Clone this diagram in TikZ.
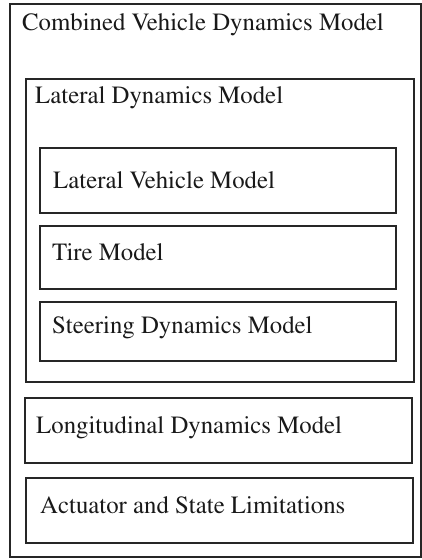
\documentclass[tikz,border=0pt]{standalone}
\usepackage[T1]{fontenc}
\usepackage{times}
\begin{document}
\begin{tikzpicture}[x=1pt, y=-1pt,
box/.style={draw=black!85, line width=1.8pt, anchor=north west, inner sep=0pt},
caption/.style={anchor=base west, inner sep=0pt, text=black!90, font=\rmfamily\fontsize{24.8}{29}\selectfont}]
\useasboundingbox (0,0) rectangle (422,560);
% frames
\node[box, minimum width=411pt, minimum height=553pt] (combined) at (9,3) {};
\node[box, minimum width=388pt, minimum height=303pt] (lateral) at (25,78) {};
\node[box, minimum width=356pt, minimum height=65pt] (vehicle) at (39,147) {};
\node[box, minimum width=356pt, minimum height=63pt] (tire) at (39,225) {};
\node[box, minimum width=356pt, minimum height=59pt] (steering) at (39,301) {};
\node[box, minimum width=387pt, minimum height=65pt] (longitudinal) at (24,397) {};
\node[box, minimum width=387pt, minimum height=65pt] (actuator) at (25,477) {};
% captions
\node[caption] (combinedT) at (22,30) {Combined Vehicle Dynamics Model};
\node[caption] (lateralT) at (35,103) {Lateral Dynamics Model};
\node[caption] (vehicleT) at (53,188) {Lateral Vehicle Model};
\node[caption] (tireT) at (52,260) {Tire Model};
\node[caption] (steeringT) at (52,333) {Steering Dynamics Model};
\node[caption] (longitudinalT) at (36,433) {Longitudinal Dynamics Model};
\node[caption] (actuatorT) at (40,513) {Actuator and State Limitations};
\end{tikzpicture}
\end{document}
